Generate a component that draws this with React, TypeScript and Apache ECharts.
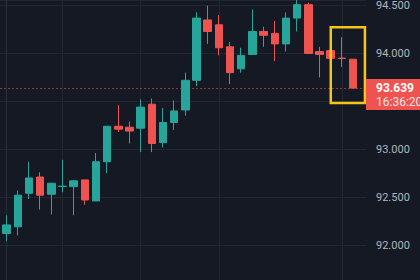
import React, { useEffect, useRef } from "react";
import * as echarts from "echarts";

// candle values: open, close, low, high
const opens = [92.12, 92.19, 92.54, 92.71, 92.53, 92.612, 92.61, 92.68, 92.46, 92.87, 93.24, 93.23, 93.22, 93.47, 93.07, 93.28, 93.41, 93.72, 94.35, 94.30, 94.07, 93.84, 93.99, 94.23, 94.21, 94.10, 94.37, 94.51, 94.02, 94.03, 93.952, 93.94];
const closes = [92.21, 92.52, 92.70, 92.52, 92.645, 92.614, 92.67, 92.47, 92.87, 93.24, 93.21, 93.19, 93.44, 93.06, 93.28, 93.40, 93.72, 94.37, 94.23, 94.06, 93.80, 93.98, 94.23, 94.19, 94.10, 94.37, 94.51, 94.00, 93.99, 93.95, 93.948, 93.639];
const lows = [92.04, 92.10, 92.48, 92.37, 92.32, 92.55, 92.31, 92.42, 92.46, 92.75, 93.18, 93.06, 92.97, 92.97, 93.02, 93.20, 93.35, 93.66, 94.10, 93.98, 93.68, 93.80, 93.99, 94.07, 93.92, 94.02, 94.23, 94.00, 93.75, 93.95, 93.86, 93.639];
const highs = [92.31, 92.57, 92.87, 92.76, 92.65, 92.89, 92.68, 92.68, 92.96, 93.24, 93.46, 93.29, 93.52, 93.53, 93.43, 93.51, 93.80, 94.43, 94.50, 94.40, 94.12, 94.06, 94.46, 94.28, 94.34, 94.43, 94.57, 94.53, 94.07, 94.03, 94.17, 93.94];

const yMin = 91.6345;
const yMax = 94.5587;
const lastPrice = 93.639;
const countdown = "16:36:20";
const timeGridIdx = [5, 12, 19, 30];
const highlightIdx = [30, 31];

const UP = "#26a69a";
const DOWN = "#ef5350";
const BG = "#151924";
const GRID = "#222633";

export default function App() {
  const ref = useRef<HTMLDivElement>(null);
  useEffect(() => {
    const chart = echarts.init(ref.current!, null, { renderer: "svg" });
    const data = opens.map((o, i) => [i, o, closes[i], lows[i], highs[i]]);
    chart.setOption({
      animation: false,
      backgroundColor: BG,
      grid: { left: 0, right: 54, top: 0, bottom: 0 },
      xAxis: { type: "value", min: -0.6, max: 32.17, show: false },
      yAxis: {
        type: "value",
        position: "right",
        min: yMin,
        max: yMax,
        splitNumber: 6,
        axisLine: { show: true, lineStyle: { color: "#2a2e39" } },
        axisTick: { show: false },
        axisLabel: {
          showMinLabel: false,
          showMaxLabel: false,
          margin: 10,
          color: "#b2b5be",
          fontSize: 11,
          fontFamily: "Roboto",
          formatter: (v: number) => (Math.abs(v - lastPrice) < 0.16 ? "" : v.toFixed(3)),
        },
        splitLine: { show: true, lineStyle: { color: GRID, width: 1 } },
      },
      series: [
        {
          type: "candlestick",
          data,
          barWidth: 8,
          itemStyle: { color: UP, color0: DOWN, borderColor: UP, borderColor0: DOWN, borderWidth: 1 },
          markLine: {
            silent: true,
            z: 1,
            symbol: ["none", "none"],
            label: { show: false },
            data: [
              ...timeGridIdx.map((x) => ({ xAxis: x, lineStyle: { color: GRID, width: 1, type: "solid" } })),
              { yAxis: lastPrice, lineStyle: { color: DOWN, width: 1, type: [2, 2], opacity: 0.55 } },
            ],
          },
        },
      ],
    });

    const yP = chart.convertToPixel({ yAxisIndex: 0 }, lastPrice) as number;
    const xL = (chart.convertToPixel({ xAxisIndex: 0 }, highlightIdx[0]) as number) - 11;
    const xR = (chart.convertToPixel({ xAxisIndex: 0 }, highlightIdx[1]) as number) + 12;
    const hi = Math.max(...highlightIdx.map((i) => highs[i]));
    const lo = Math.min(...highlightIdx.map((i) => lows[i]));
    const yT = (chart.convertToPixel({ yAxisIndex: 0 }, hi) as number) - 10;
    const yB = (chart.convertToPixel({ yAxisIndex: 0 }, lo) as number) + 15;

    chart.setOption({
      graphic: [
        {
          type: "rect",
          z: 100,
          shape: { x: xL, y: yT, width: xR - xL, height: yB - yT },
          style: { fill: "none", stroke: "#f5c518", lineWidth: 2.5 },
        },
        {
          type: "rect",
          z: 100,
          shape: { x: 366, y: yP - 9, width: 60, height: 31 },
          style: { fill: DOWN },
        },
        {
          type: "text",
          z: 101,
          x: 376,
          y: yP,
          style: {
            text: lastPrice.toFixed(3),
            fill: "#ffffff",
            font: "bold 12px Roboto",
            verticalAlign: "middle",
          },
        },
        {
          type: "text",
          z: 101,
          x: 376,
          y: yP + 13.5,
          style: {
            text: countdown,
            fill: "#fde3e3",
            font: "12px Roboto",
            verticalAlign: "middle",
          },
        },
      ],
    });

    return () => chart.dispose();
  }, []);
  return <div ref={ref} style={{ position: "fixed", left: 0, top: 0, width: 420, height: 280 }} />;
}
